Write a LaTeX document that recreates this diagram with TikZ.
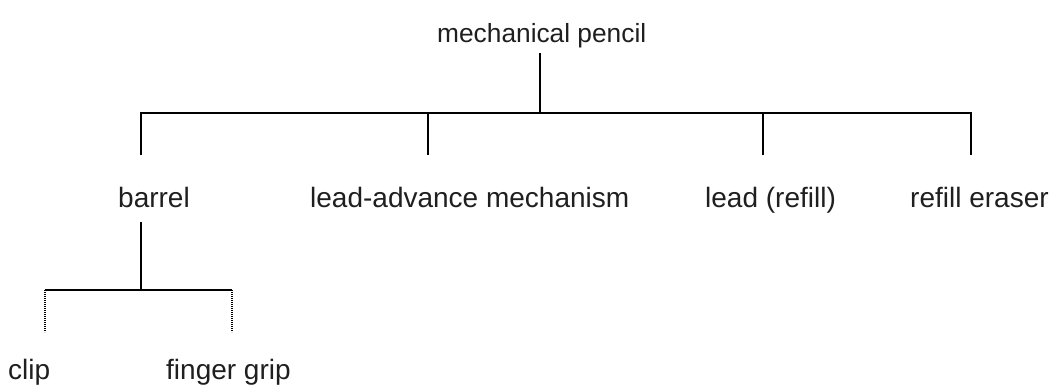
\documentclass[tikz,border=0pt]{standalone}
\usepackage{fontspec}
\setmainfont{Liberation Sans}
\begin{document}
\begin{tikzpicture}[x=1pt,y=-1pt,
  term/.style={font=\fontsize{28}{32}\selectfont, inner sep=0pt, anchor=base west, text=black!88},
  branch/.style={line width=1.6pt, line join=miter},
  dotbranch/.style={line width=1.1pt, dash pattern=on 0.9pt off 1.1pt}]
\useasboundingbox (0,0) rectangle (1051,385);

% terms
\node[term, font=\fontsize{26.3}{30}\selectfont] (root) at (437,43) {mechanical pencil};
\node[term] (barrel)    at (118,207) {barrel};
\node[term] (mechanism) at (310,207) {lead-advance mechanism};
\node[term] (lead)      at (705,207) {lead (refill)};
\node[term] (eraser)    at (910,207) {refill eraser};
\node[term] (clip)      at (8,379)   {clip};
\node[term] (grip)      at (166,379) {finger grip};

% connector end points
\coordinate (rootfoot) at (540,53);
\coordinate (hub)      at (540,113);
\coordinate (barrelup) at (141,155);
\coordinate (mechup)   at (428,155);
\coordinate (leadup)   at (763,155);
\coordinate (eraserup) at (971,155);
\coordinate (barrelfoot) at (141,222);
\coordinate (subhub)   at (141,290);
\coordinate (clipup)   at (45,332);
\coordinate (gripup)   at (232,332);

% first level
\draw[branch] (rootfoot) -- (hub);
\draw[branch] (barrelup) |- (hub) -| (eraserup);
\draw[branch] (mechup) -- (mechup |- hub);
\draw[branch] (leadup) -- (leadup |- hub);

% second level under the barrel
\draw[branch] (barrelfoot) -- (subhub);
\draw[branch] (clipup |- subhub) -- (gripup |- subhub);
\draw[dotbranch] (clipup |- subhub) -- (clipup);
\draw[dotbranch] (gripup |- subhub) -- (gripup);
\end{tikzpicture}
\end{document}
